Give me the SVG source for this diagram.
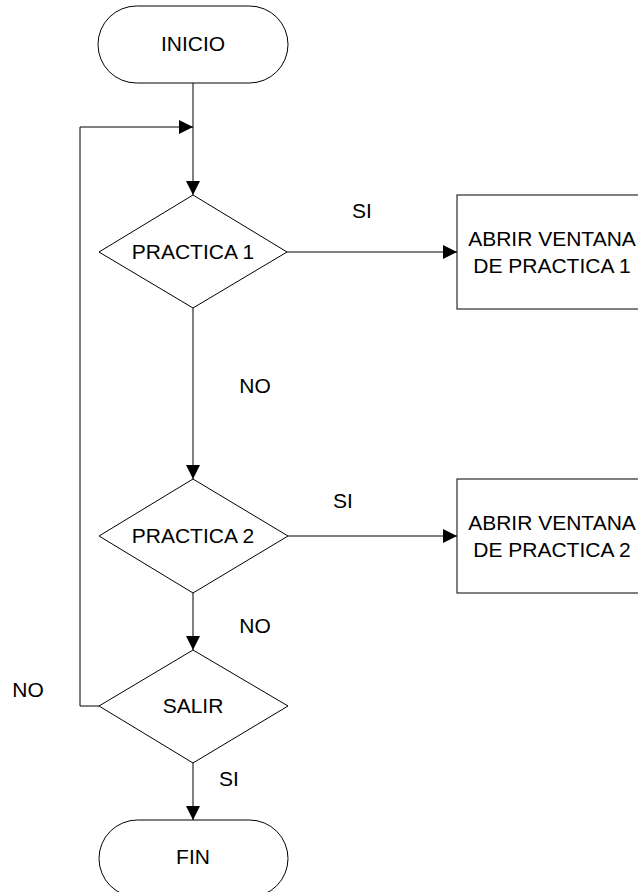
<svg xmlns="http://www.w3.org/2000/svg" width="638" height="892" viewBox="0 0 638 892">
  <style>
    .shape { fill: #fff; stroke: #000; stroke-width: 1; }
    .edge { fill: none; stroke: #000; stroke-width: 1; }
    text { font-family: "Liberation Sans", Arial, sans-serif; font-size: 21px; fill: #000; text-anchor: middle; }
  </style>
  <defs>
    <marker id="arrow" viewBox="0 0 14 14" refX="14" refY="7" markerWidth="14" markerHeight="14" markerUnits="userSpaceOnUse" orient="auto">
      <path d="M0,0 L14,7 L0,14 Z" fill="#000"/>
    </marker>
  </defs>
  <rect width="638" height="892" fill="#fff"/>

  <!-- connectors -->
  <g id="connectors">
    <path class="edge" d="M193,83 V195" marker-end="url(#arrow)"/>
    <path class="edge" d="M99,706 H80 V127 H193" marker-end="url(#arrow)"/>
    <path class="edge" d="M287,252 H457" marker-end="url(#arrow)"/>
    <path class="edge" d="M193,308 V479" marker-end="url(#arrow)"/>
    <path class="edge" d="M288,536 H457" marker-end="url(#arrow)"/>
    <path class="edge" d="M193,593 V650" marker-end="url(#arrow)"/>
    <path class="edge" d="M193,763 V820" marker-end="url(#arrow)"/>
    <text x="362" y="218">SI</text>
    <text x="255" y="393">NO</text>
    <text x="343" y="508">SI</text>
    <text x="255" y="633">NO</text>
    <text x="28" y="697">NO</text>
    <text x="229" y="786">SI</text>
  </g>

  <g id="inicio">
    <rect class="shape" x="98" y="6" width="190" height="77" rx="38.5" ry="38.5"/>
    <text x="193" y="51">INICIO</text>
  </g>

  <g id="practica1">
    <polygon class="shape" points="193,195 287,252 193,308 99,252"/>
    <text x="193" y="259">PRACTICA 1</text>
  </g>

  <g id="ventana1">
    <rect class="shape" x="457" y="195" width="190" height="114"/>
    <text x="552" y="246">ABRIR VENTANA</text>
    <text x="552" y="273">DE PRACTICA 1</text>
  </g>

  <g id="practica2">
    <polygon class="shape" points="193,479 288,536 193,593 99,536"/>
    <text x="193" y="543">PRACTICA 2</text>
  </g>

  <g id="ventana2">
    <rect class="shape" x="457" y="479" width="190" height="114"/>
    <text x="552" y="530">ABRIR VENTANA</text>
    <text x="552" y="557">DE PRACTICA 2</text>
  </g>

  <g id="salir">
    <polygon class="shape" points="193,650 288,706 193,763 99,706"/>
    <text x="193" y="713">SALIR</text>
  </g>

  <g id="fin">
    <rect class="shape" x="99" y="820" width="189" height="77" rx="38.5" ry="38.5"/>
    <text x="193" y="864">FIN</text>
  </g>
</svg>
